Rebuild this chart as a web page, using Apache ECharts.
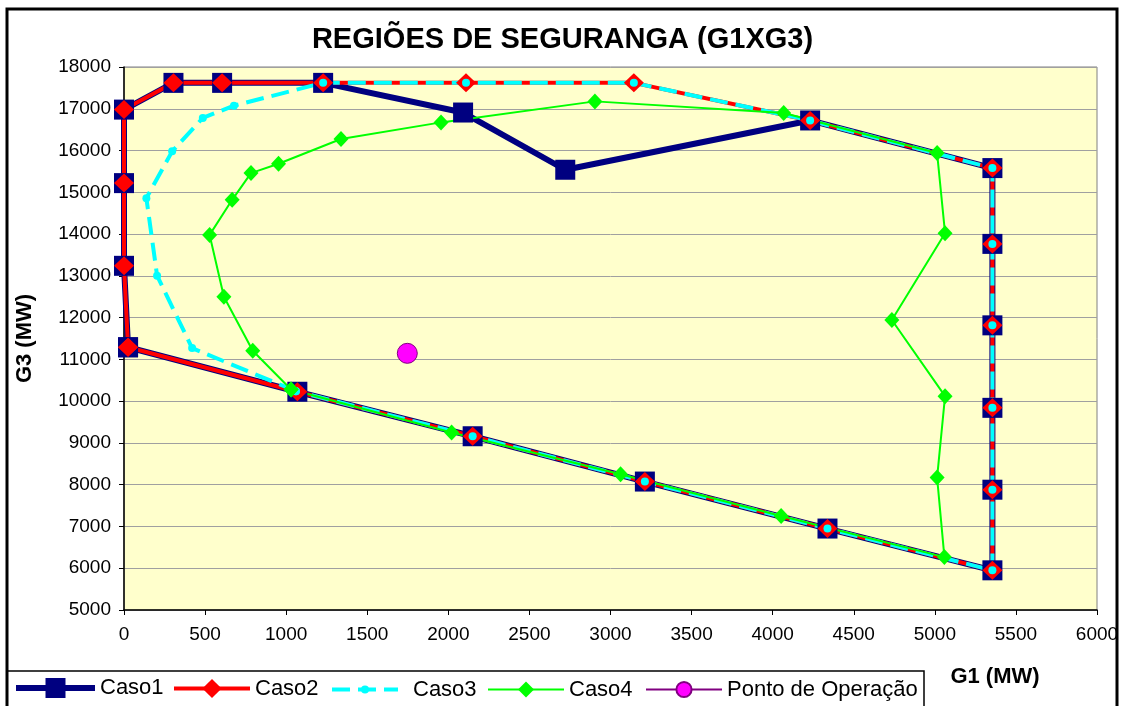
<!DOCTYPE html>
<html>
<head>
<meta charset="utf-8">
<title>Regiões de Segurança (G1xG3)</title>
<script src="https://cdn.jsdelivr.net/npm/echarts@6/dist/echarts.min.js"></script>
<style>
  html, body { margin: 0; padding: 0; background: #fff; }
  #main { width: 1125px; height: 706px; }
</style>
</head>
<body>
<div id="main"></div>
<script>
// G1 (MW) / G3 (MW), cada caso é um polígono fechado
var caso1G1 = [25, 0, 0, 0, 305, 605, 1228, 2091, 2721, 4231, 5355, 5355, 5355, 5355, 5355, 5355, 4338, 3212, 2150, 1069, 25];
var caso1G3 = [11290, 13240, 15220, 16980, 17620, 17620, 17620, 16910, 15540, 16720, 15580, 13765, 11815, 9840, 7880, 5950, 6950, 8075, 9160, 10225, 11290];

var caso2G1 = [25, 0, 0, 0, 305, 605, 1228, 2109, 3144, 4231, 5355, 5355, 5355, 5355, 5355, 5355, 4338, 3212, 2150, 1069, 25];
var caso2G3 = [11290, 13240, 15220, 16980, 17620, 17620, 17620, 17620, 17620, 16720, 15580, 13765, 11815, 9840, 7880, 5950, 6950, 8075, 9160, 10225, 11290];

var caso3G1 = [1060, 420, 204, 138, 297, 486, 678, 1228, 2109, 3144, 4231, 5355, 5355, 5355, 5355, 5355, 5355, 4338, 3212, 2150, 1060];
var caso3G3 = [10240, 11270, 13005, 14860, 15980, 16780, 17075, 17620, 17620, 17620, 16720, 15580, 13765, 11815, 9840, 7880, 5950, 6950, 8075, 9160, 10240];

var caso4G1 = [1030, 794, 616, 528, 667, 783, 953, 1338, 1955, 2904, 4068, 5014, 5063, 4735, 5063, 5014, 5059, 4052, 3062, 2020, 1030];
var caso4G3 = [10280, 11205, 12500, 13980, 14820, 15460, 15683, 16276, 16674, 17177, 16899, 15940, 14022, 11942, 10120, 8170, 6266, 7249, 8249, 9249, 10280];

var pontoG1 = [1747];
var pontoG3 = [11145];

var nomes = ['Caso1', 'Caso2', 'Caso3', 'Caso4', 'Ponto de Operação'];

function pares(xs, ys) {
	return xs.map(function (x, i) { return [x, ys[i]]; });
}

var fonte = "'Liberation Sans', Arial, sans-serif";

var myChart = echarts.init(document.getElementById('main'));

// uma legenda por série para acertar posição e tamanho de cada ícone
function legenda(nome, left, w, h, lw, extra) {
	return {
		data: [nome],
		left: left,
		top: 689.5 - Math.max(h, 22) / 2,
		padding: 0,
		itemWidth: w,
		itemHeight: h,
		selectedMode: false,
		lineStyle: { width: lw },
		textStyle: Object.assign({ fontSize: 22, color: '#000', fontFamily: fonte }, extra || {})
	};
}

var option = {
	animation: false,
	backgroundColor: '#fff',
	title: {
		text: 'REGIÕES DE SEGURANGA (G1XG3)',
		left: 'center',
		top: 20,
		textStyle: { fontSize: 29, fontWeight: 'bold', color: '#000', fontFamily: fonte }
	},
	legend: [
		legenda(nomes[0], 13, 79, 25, 6),
		legenda(nomes[1], 172, 76, 24, 4),
		legenda(nomes[2], 330, 66, 10, 4, { padding: [0, 0, 0, 10] }),
		legenda(nomes[3], 487, 76, 20, 2),
		legenda(nomes[4], 645, 76, 19, 2)
	],
	grid: {
		left: 124,
		right: 28,
		top: 67,
		bottom: 96,
		show: true,
		backgroundColor: '#FFFFCC',
		borderColor: '#808080',
		borderWidth: 1
	},
	xAxis: {
		type: 'value',
		min: 0,
		max: 6000,
		interval: 500,
		name: 'G1 (MW)',
		nameLocation: 'end',
		nameGap: -102,
		nameTextStyle: {
			fontSize: 22, fontWeight: 'bold', color: '#000', fontFamily: fonte,
			align: 'center', verticalAlign: 'top', padding: [56, 0, 0, 0]
		},
		axisLine: { lineStyle: { color: '#000', width: 1.5 } },
		axisTick: { show: true, length: 5, lineStyle: { color: '#000' } },
		axisLabel: {
			fontSize: 19, color: '#000', margin: 15, fontFamily: fonte,
			formatter: function (v) { return String(v); }
		},
		splitLine: { show: false }
	},
	yAxis: {
		type: 'value',
		min: 5000,
		max: 18000,
		interval: 1000,
		name: 'G3 (MW)',
		nameLocation: 'middle',
		nameGap: 88,
		nameTextStyle: { fontSize: 22, fontWeight: 'bold', color: '#000', fontFamily: fonte },
		axisLine: { show: true, lineStyle: { color: '#000', width: 1.5 } },
		axisTick: { show: true, length: 5, lineStyle: { color: '#000' } },
		axisLabel: {
			fontSize: 19, color: '#000', margin: 13, fontFamily: fonte,
			formatter: function (v) { return String(v); }
		},
		splitLine: { show: true, lineStyle: { color: '#A0A0A0', width: 1 } }
	},
	series: [
		{
			name: nomes[0],
			type: 'line',
			data: pares(caso1G1, caso1G3),
			symbol: 'rect',
			symbolSize: 20,
			itemStyle: { color: '#000080' },
			lineStyle: { color: '#000080', width: 6 }
		},
		{
			name: nomes[1],
			type: 'line',
			data: pares(caso2G1, caso2G3),
			symbol: 'diamond',
			symbolSize: [20, 19],
			itemStyle: { color: '#FF0000' },
			lineStyle: { color: '#FF0000', width: 4 }
		},
		{
			name: nomes[2],
			type: 'line',
			data: pares(caso3G1, caso3G3),
			symbol: 'circle',
			symbolSize: 8,
			itemStyle: { color: '#00FFFF', borderWidth: 0 },
			lineStyle: { color: '#00FFFF', width: 4, type: [18, 8] }
		},
		{
			name: nomes[3],
			type: 'line',
			data: pares(caso4G1, caso4G3),
			symbol: 'diamond',
			symbolSize: [15, 16],
			itemStyle: { color: '#00FF00' },
			lineStyle: { color: '#00FF00', width: 2 }
		},
		{
			name: nomes[4],
			type: 'line',
			data: pares(pontoG1, pontoG3),
			symbol: 'circle',
			symbolSize: 20,
			itemStyle: { color: '#FF00FF', borderColor: '#800080', borderWidth: 1 },
			lineStyle: { color: '#800080', width: 2 }
		}
	],
	graphic: [
		{
			type: 'rect',
			shape: { x: 7, y: 9, width: 1110, height: 720 },
			style: { fill: 'none', stroke: '#000', lineWidth: 3 },
			silent: true
		},
		{
			type: 'rect',
			shape: { x: 7, y: 671, width: 917, height: 50 },
			style: { fill: 'none', stroke: '#000', lineWidth: 1.5 },
			silent: true
		}
	]
};

myChart.setOption(option);
</script>
</body>
</html>
